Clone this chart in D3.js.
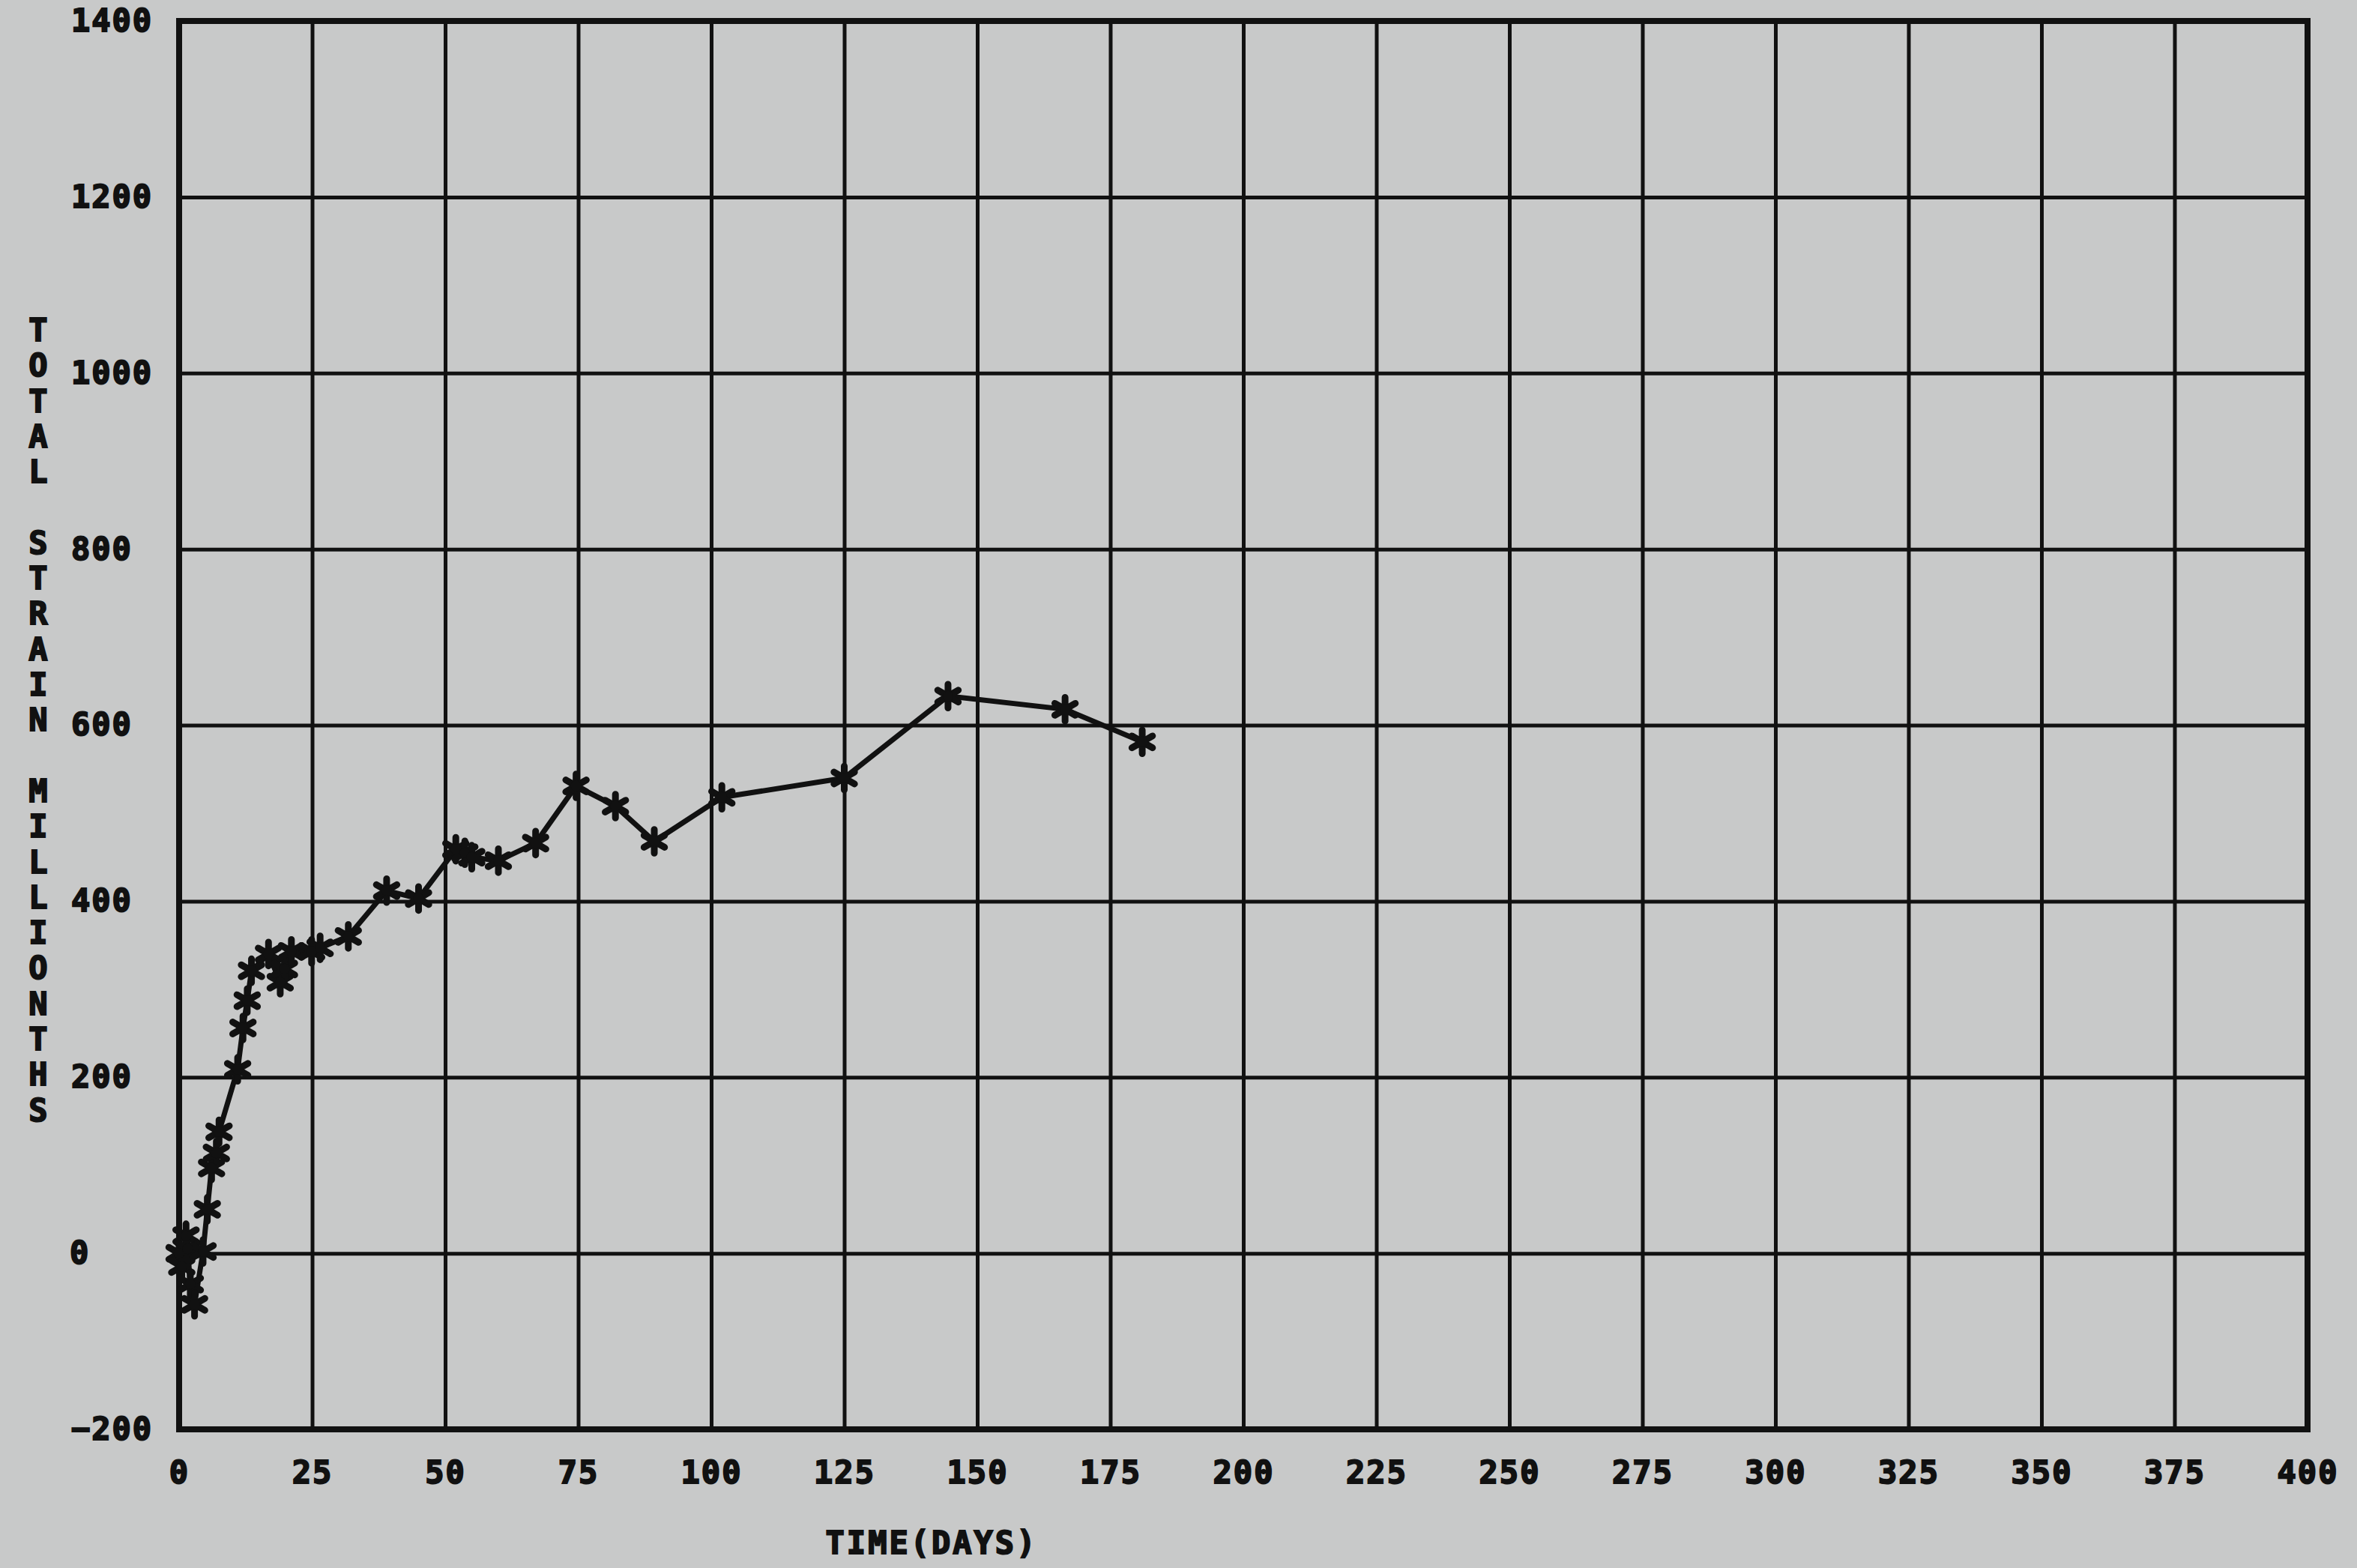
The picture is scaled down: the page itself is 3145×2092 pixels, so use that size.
<!DOCTYPE html>
<html>
<head>
<meta charset="utf-8">
<script src="https://cdn.jsdelivr.net/npm/d3@7"></script>
<style>
  html, body { margin: 0; padding: 0; background: #c8c9c9; }
  svg { display: block; }
  text { font-family: "DejaVu Sans Mono", monospace; font-weight: bold; fill: #111; }
</style>
</head>
<body>
<script>
// ---- data ----
const timeDays = [0, 0.5, 1.3, 1.6, 2.1, 2.9, 4.5, 5.3, 6.1, 7.0, 7.5, 11.0, 12.0, 12.8, 13.6,
                  16.8, 19.0, 19.8, 21.1, 24.9, 26.5, 31.8, 39.0, 45.0, 52.0, 53.7, 55.0,
                  60.0, 67.0, 74.6, 82.0, 89.3, 102.0, 125.0, 144.5, 166.5, 181.0];
const totalStrain = [0, -15, 20, 5, -35, -58, 2, 50, 97, 114, 138, 209, 256, 287, 321,
                     340, 308, 323, 343, 343, 347, 360, 412, 403, 459, 455, 450,
                     446, 466, 531, 508, 468, 518, 540, 633, 618, 581];
const xTicks = [0, 25, 50, 75, 100, 125, 150, 175, 200, 225, 250, 275, 300, 325, 350, 375, 400];
const yTicks = [-200, 0, 200, 400, 600, 800, 1000, 1200, 1400];
const xTitle = "TIME(DAYS)";
const yTitle = "TOTAL STRAIN MILLIONTHS";

(function () {
// ---- layout ----
const W = 3145, H = 2092;
const pL = 239, pR = 3079, pT = 28, pB = 1907;
const FS = 42;

const svg = d3.select("body").append("svg").attr("width", W).attr("height", H);
svg.append("rect").attr("width", W).attr("height", H).attr("fill", "#c8c9c9");

const x = d3.scaleLinear().domain([0, 400]).range([pL, pR]);
const y = d3.scaleLinear().domain([-200, 1400]).range([pB, pT]);

function styleText(sel) {
  sel.attr("font-size", FS).attr("letter-spacing", 2)
    .attr("font-family", "DejaVu Sans Mono").attr("font-weight", "bold")
    .attr("fill", "#111").attr("stroke", "#111").attr("stroke-width", 2);
}

// grid (vertical)
const gx = svg.append("g").attr("transform", `translate(0,${pB})`)
  .call(d3.axisBottom(x).tickValues(xTicks).tickSize(-(pB - pT)).tickPadding(42).tickFormat(d3.format("d")));
gx.select(".domain").remove();
gx.selectAll(".tick line").attr("stroke", "#111").attr("stroke-width", 5);
gx.selectAll(".tick text").call(styleText);

// grid (horizontal)
const gy = svg.append("g").attr("transform", `translate(${pL},0)`)
  .call(d3.axisLeft(y).tickValues(yTicks).tickSize(-(pR - pL)).tickPadding(32).tickFormat(d3.format("d")));
gy.select(".domain").remove();
gy.selectAll(".tick line").attr("stroke", "#111").attr("stroke-width", 5);
gy.selectAll(".tick text").call(styleText)
  .attr("text-anchor", "start").attr("x", d => (d === 0 ? 93 : 95) - pL);

// frame
svg.append("rect").attr("x", pL).attr("y", pT).attr("width", pR - pL).attr("height", pB - pT)
  .attr("fill", "none").attr("stroke", "#111").attr("stroke-width", 8);

// data line
const pts = timeDays.map((d, i) => [d, totalStrain[i]]);
svg.append("path").datum(pts)
  .attr("fill", "none").attr("stroke", "#111").attr("stroke-width", 7).attr("stroke-linejoin", "round")
  .attr("d", d3.line().x(d => x(d[0])).y(d => y(d[1])));

// star markers
const starType = {
  draw(ctx, size) {
    const r = Math.sqrt(size) / 2;
    const a = Math.PI / 3;
    for (let k = 0; k < 3; k++) {
      const ang = Math.PI / 2 + k * a;
      const dx = Math.cos(ang) * r, dy = Math.sin(ang) * r;
      ctx.moveTo(-dx, -dy);
      ctx.lineTo(dx, dy);
    }
  }
};
const mk = svg.append("g");
mk.selectAll("path.star").data(pts).join("path").attr("class", "star")
  .attr("transform", d => `translate(${x(d[0])},${y(d[1])})`)
  .attr("d", d3.symbol().type(starType).size(1000))
  .attr("fill", "none").attr("stroke", "#111").attr("stroke-width", 9).attr("stroke-linecap", "round");
mk.selectAll("circle").data(pts).join("circle")
  .attr("cx", d => x(d[0])).attr("cy", d => y(d[1])).attr("r", 7).attr("fill", "#111");

// x title
svg.append("text").attr("x", 1243).attr("y", 2073).attr("text-anchor", "middle")
  .call(styleText).attr("letter-spacing", 3).text(xTitle);

// y title (stacked letters)
const letters = yTitle.split("");
svg.append("g").selectAll("text").data(letters).join("text")
  .attr("x", 51).attr("y", (d, i) => 440 + i * 47.3 + 15)
  .attr("text-anchor", "middle").call(styleText).attr("letter-spacing", 0).text(d => d);
})();
</script>
</body>
</html>
